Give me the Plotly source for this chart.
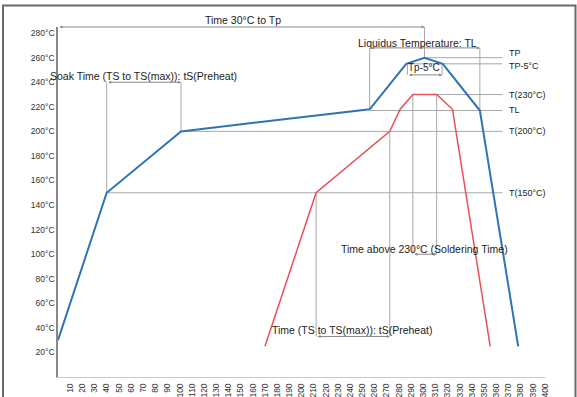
import plotly.graph_objects as go

# ---- data ----
blue_x = [0, 40, 101, 256, 286, 301, 316, 346.5, 378]
blue_y = [30, 150, 200, 218, 255, 260, 255, 217, 25]
red_x = [170, 212, 272.5, 281, 291.5, 311, 324, 355]
red_y = [25, 150, 200, 218, 230, 230, 218, 25]

x_ticks = list(range(10, 401, 10))
y_ticks = list(range(20, 281, 20))
y_ticktext = [f"{v}°C" for v in y_ticks]

level_names = ["TP", "TP-5°C", "T(230°C)", "TL", "T(200°C)", "T(150°C)"]
level_vals = [260, 255, 230, 217, 200, 150]
level_label_y = [264, 253, 230, 217.5, 200.5, 150]
level_start = [301, 287, 291.5, 256, 101, 40]
level_end = 365
label_x = 368.5

FONT = "Arial, Liberation Sans, sans-serif"
GRID = "#a8a8a8"

fig = go.Figure()

def seg(x0, y0, x1, y1, color=GRID, width=1):
    fig.add_shape(type="line", x0=x0, y0=y0, x1=x1, y1=y1, xref="x", yref="y",
                  line=dict(color=color, width=width), layer="below")

# horizontal reference levels
for s, v in zip(level_start, level_vals):
    seg(s, v, level_end, v)

# vertical guide lines
seg(40, 240, 40, 150)
seg(101, 240, 101, 200)
seg(256, 268, 256, 218)
seg(346.5, 268, 346.5, 217)
seg(301, 285, 301, 260)
seg(287, 255, 287, 246)
seg(315.5, 255, 315.5, 246)
seg(291.5, 230, 291.5, 100)
seg(311, 230, 311, 100)
seg(212, 150, 212, 33)
seg(272.5, 200, 272.5, 33)

fig.add_trace(go.Scatter(x=blue_x, y=blue_y, mode="lines",
                         line=dict(color="#2f74b5", width=2), showlegend=False))
fig.add_trace(go.Scatter(x=red_x, y=red_y, mode="lines",
                         line=dict(color="#e8515a", width=1.5), showlegend=False))

def arrow(x0, x1, y):
    fig.add_annotation(x=x1, y=y, ax=x0, ay=y, xref="x", yref="y", axref="x", ayref="y",
                       text="", showarrow=True, arrowside="end+start", arrowhead=2,
                       arrowsize=0.6, arrowwidth=1, arrowcolor="#888")

arrow(0, 301, 285)
arrow(40, 101, 240)
arrow(256, 346.5, 268)
arrow(287, 315.5, 246)
arrow(291.5, 311, 100)
arrow(212, 272.5, 33)

def label(x, y, text, size=10.5, anchor="center", yref="y"):
    fig.add_annotation(x=x, y=y, xref="x", yref=yref, text=text, showarrow=False,
                       xanchor=anchor, yanchor="middle",
                       font=dict(family=FONT, size=size, color="#222"))

label(152, (377.6 - 21) / 350, "Time 30°C to Tp", 10.5, yref="paper")
label(70, 245.5, "Soak Time (TS to TS(max)): tS(Preheat)")
label(295, 272, "Liquidus Temperature: TL")
label(301, 252, "Tp-5°C", 10)
label(301, 104.5, "Time above 230°C (Soldering Time)")
label(241.5, 38.5, "Time (TS to TS(max)): tS(Preheat)")

for n, ly in zip(level_names, level_label_y):
    label(label_x, ly, n, 9, "left")

# outer frame
fig.add_shape(type="rect", xref="paper", yref="paper",
              x0=(3 - 58) / 487, x1=(575.5 - 58) / 487,
              y0=(377.6 - 402) / 350, y1=(377.6 - 6) / 350,
              line=dict(color="#6a6a6a", width=2), fillcolor="rgba(0,0,0,0)")

fig.update_xaxes(range=[0, 400], tickvals=x_ticks, ticktext=[str(v) for v in x_ticks],
                 tickangle=-90, showgrid=False, zeroline=False, showline=True,
                 linecolor="#c8c8c8", linewidth=1, ticks="", automargin=False,
                 ticklabelstandoff=2,
                 tickfont=dict(family=FONT, size=8.5, color="#333"))
fig.update_yaxes(range=[0, 285], tickvals=y_ticks, ticktext=y_ticktext,
                 showgrid=False, zeroline=False, showline=True, automargin=False,
                 linecolor="#888", linewidth=1.5, ticks="",
                 tickfont=dict(family=FONT, size=8.5, color="#333"))

fig.update_layout(width=577, height=397, margin=dict(l=58, r=32, t=27, b=20, pad=0),
                  plot_bgcolor="white", paper_bgcolor="white", showlegend=False)

fig.write_html("out.html")
